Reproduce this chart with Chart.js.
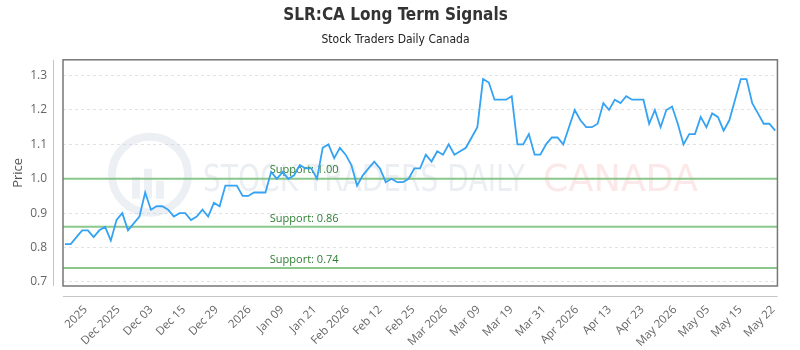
<!DOCTYPE html>
<html><head><meta charset="utf-8">
<script src="https://cdn.jsdelivr.net/npm/chart.js@4/dist/chart.umd.min.js"></script>
<style>html,body{margin:0;padding:0;background:#fff}#wrap{width:800px;height:350px;position:relative}</style>
</head><body><div id="wrap"><canvas id="c"></canvas></div>
<script>
// ---- data ----
const prices = [
  0.81,0.81,0.83,0.85,0.85,0.83,0.85,0.86,0.82,0.88,
  0.90,0.85,0.87,0.89,0.96,0.91,0.92,0.92,0.91,0.89,
  0.90,0.90,0.88,0.89,0.91,0.89,0.93,0.92,0.98,0.98,
  0.98,0.95,0.95,0.96,0.96,0.96,1.02,1.00,1.02,1.00,
  1.01,1.04,1.03,1.03,1.00,1.09,1.10,1.06,1.09,1.07,
  1.04,0.98,1.01,1.03,1.05,1.03,0.99,1.00,0.99,0.99,
  1.00,1.03,1.03,1.07,1.05,1.08,1.07,1.10,1.07,1.08,
  1.09,1.12,1.15,1.29,1.28,1.23,1.23,1.23,1.24,1.10,
  1.10,1.13,1.07,1.07,1.10,1.12,1.12,1.10,1.15,1.20,
  1.17,1.15,1.15,1.16,1.22,1.20,1.23,1.22,1.24,1.23,
  1.23,1.23,1.16,1.20,1.15,1.20,1.21,1.16,1.10,1.13,
  1.13,1.18,1.15,1.19,1.18,1.14,1.17,1.23,1.29,1.29,
  1.22,1.19,1.16,1.16,1.14
];
const xTickLabels = ["2025","Dec 2025","Dec 03","Dec 15","Dec 29","2026","Jan 09","Jan 21",
  "Feb 2026","Feb 12","Feb 25","Mar 2026","Mar 09","Mar 19","Mar 31","Apr 2026","Apr 13",
  "Apr 23","May 2026","May 05","May 15","May 22"];
const supportLevels = [1.00, 0.86, 0.74];
const supportLabels = ["Support: 1.00", "Support: 0.86", "Support: 0.74"];
const titleText = "SLR:CA Long Term Signals";
const subtitleText = "Stock Traders Daily Canada";
const yAxisTitle = "Price";

// ---- layout helpers ----
const tickFirst = 3.6, tickStep = 5.717;
const narrow = "'Liberation Sans Narrow','DejaVu Sans Condensed','Roboto',sans-serif";

const decor = {
  id: 'decor',
  beforeDatasetsDraw(chart) {
    const {ctx, chartArea: a, scales: {y}} = chart;
    ctx.save();
    // watermark
    const cx = a.left + 87, cy = a.top + 115;
    ctx.strokeStyle = 'rgba(185,198,215,0.28)';
    ctx.lineWidth = 8;
    ctx.beginPath(); ctx.arc(cx, cy, 38, 0, Math.PI * 2); ctx.stroke();
    ctx.fillStyle = 'rgba(185,198,215,0.25)';
    ctx.fillRect(cx - 18, cy + 2, 8, 22);
    ctx.fillRect(cx - 6, cy - 6, 8, 30);
    ctx.fillRect(cx + 6, cy + 6, 8, 18);
    ctx.font = "38px 'DejaVu Sans',sans-serif";
    ctx.textBaseline = 'middle';
    ctx.textAlign = 'left';
    const t1 = 'STOCK TRADERS DAILY', t2 = 'CANADA';
    let w1 = ctx.measureText(t1).width;
    ctx.save(); ctx.translate(a.left + 140, cy + 6); ctx.scale(322 / w1, 1);
    ctx.fillStyle = 'rgba(190,202,220,0.3)'; ctx.fillText(t1, 0, 0); ctx.restore();
    let w2 = ctx.measureText(t2).width;
    ctx.save(); ctx.translate(a.left + 480, cy + 6); ctx.scale(155 / w2, 1);
    ctx.fillStyle = 'rgba(240,150,150,0.22)'; ctx.fillText(t2, 0, 0); ctx.restore();
    // support lines
    supportLevels.forEach((v, i) => {
      const py = y.getPixelForValue(v);
      ctx.strokeStyle = 'rgba(120,190,120,0.85)';
      ctx.lineWidth = 2;
      ctx.beginPath(); ctx.moveTo(a.left, py); ctx.lineTo(a.right, py); ctx.stroke();
      ctx.fillStyle = '#2e7d32';
      ctx.font = "11px 'Open Sans',sans-serif";
      ctx.textAlign = 'left'; ctx.textBaseline = 'bottom';
      ctx.fillText(supportLabels[i], a.left + (a.right - a.left) * 0.2895, py - 3);
    });
    ctx.restore();
  },
  afterDraw(chart) {
    const {ctx, chartArea: a} = chart;
    ctx.save();
    ctx.strokeStyle = '#777'; ctx.lineWidth = 1.5;
    ctx.strokeRect(a.left, a.top, a.right - a.left, a.bottom - a.top);
    ctx.strokeStyle = '#c4c4c4'; ctx.lineWidth = 1;
    ctx.beginPath();
    ctx.moveTo(a.left - 10 + 0.5, a.top); ctx.lineTo(a.left - 10 + 0.5, a.bottom);
    ctx.moveTo(a.left, a.bottom + 10 + 0.5); ctx.lineTo(a.right, a.bottom + 10 + 0.5);
    ctx.stroke();
    ctx.restore();
  }
};

new Chart(document.getElementById('c'), {
  type: 'line',
  data: {
    datasets: [{
      data: prices.map((v, i) => ({x: i, y: v})),
      borderColor: '#35a3f3',
      borderWidth: 1.8,
      pointRadius: 0,
      tension: 0,
      fill: false
    }]
  },
  options: {
    responsive: true,
    maintainAspectRatio: false,
    animation: false,
    layout: {padding: {top: 0, right: 9, bottom: 0, left: 0}},
    plugins: {
      legend: {display: false},
      tooltip: {enabled: false},
      title: {display: true, text: titleText, color: '#333',
        font: {family: narrow, size: 17, weight: 'bold'}, padding: {top: 5, bottom: 4}},
      subtitle: {display: true, text: subtitleText, color: '#222',
        font: {family: narrow, size: 12}, padding: {top: 3, bottom: 13}}
    },
    scales: {
      x: {
        type: 'linear',
        min: -0.35, max: 124.4,
        grid: {display: false, drawTicks: false},
        border: {display: false},
        afterBuildTicks: s => { s.ticks = xTickLabels.map((l, i) => ({value: tickFirst + i * tickStep})); },
        afterFit: s => { s.height = 64; },
        ticks: {
          autoSkip: false, maxRotation: 45, minRotation: 45, padding: 17,
          color: '#666', font: {family: "'Open Sans',sans-serif", size: 11.5},
          callback: (v, i) => xTickLabels[i]
        }
      },
      y: {
        min: 0.688, max: 1.346,
        grid: {color: '#e3e3e3', drawTicks: false},
        border: {display: false, dash: [3, 3]},
        afterFit: s => { s.width = 63; },
        ticks: {stepSize: 0.1, includeBounds: false, padding: 16, color: '#666',
          font: {family: "'Open Sans',sans-serif", size: 12},
          callback: v => v.toFixed(1)},
        title: {display: true, text: yAxisTitle, color: '#555', padding: {top: 10},
          font: {family: "'Open Sans',sans-serif", size: 13}}
      }
    }
  },
  plugins: [decor]
});
</script>
</body></html>
